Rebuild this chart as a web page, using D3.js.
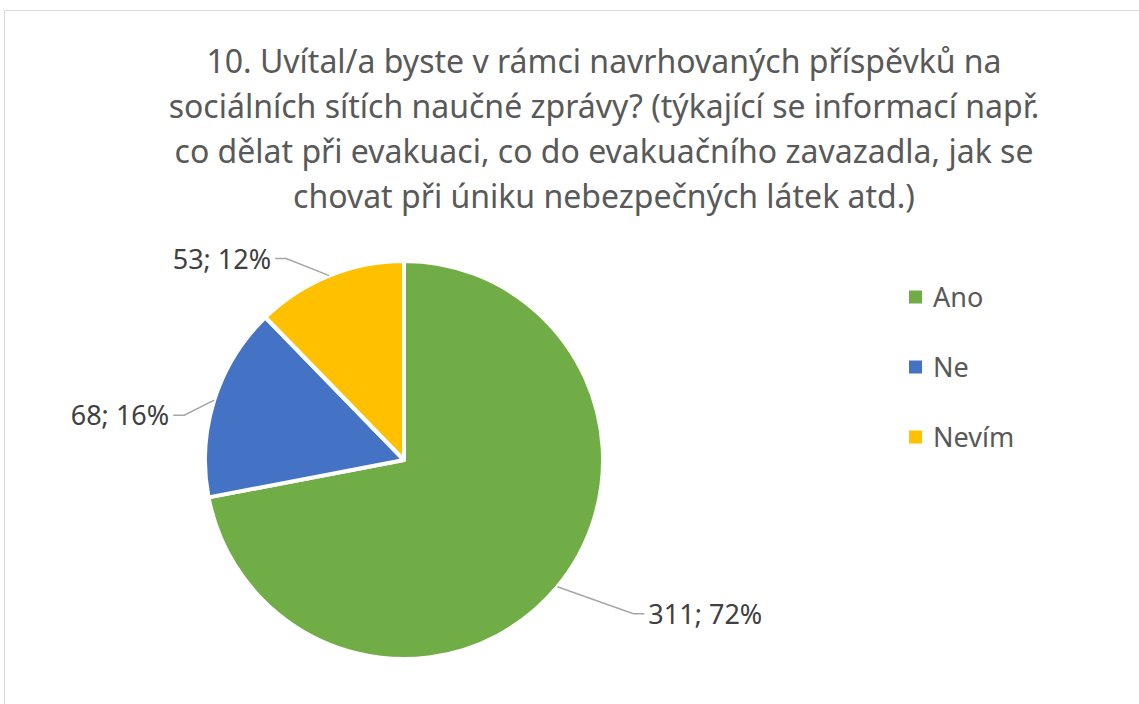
<!DOCTYPE html>
<html>
<head>
	<meta charset="utf-8">
	<title>Pie</title>
	<script src="https://cdn.jsdelivr.net/npm/d3@7"></script>
	<style>
		body { margin: 0; background: #fff; font-family: "Noto Sans", sans-serif; }
	</style>
</head>
<body>
	<div id="chart"></div>
	<script>

		// data
		const categories = ['Ano', 'Ne', 'Nevím'];
		const counts = [311, 68, 53];
		const percents = [72, 16, 12];
		const titleLines = [
			'10. Uvítal/a byste v rámci navrhovaných příspěvků na',
			'sociálních sítích naučné zprávy? (týkající se informací např.',
			'co dělat při evakuaci, co do evakuačního zavazadla, jak se',
			'chovat při úniku nebezpečných látek atd.)'
		];

		const width = 1139, height = 704;
		const cx = 404, cy = 460, radius = 199;
		const colors = ['#70ad47', '#4472c4', '#ffc000'];

		const svg = d3.select('#chart').append('svg')
				.attr('width', width)
				.attr('height', height);

		// chart frame
		svg.append('rect')
				.attr('x', 4.5).attr('y', 10.5)
				.attr('width', width + 20).attr('height', height + 20)
				.attr('fill', '#fff')
				.attr('stroke', '#d9d9d9');

		// title
		svg.append('text')
				.attr('text-anchor', 'middle')
				.attr('fill', '#595959')
				.style('font-size', '32px')
			.selectAll('tspan')
			.data(titleLines)
			.join('tspan')
				.attr('x', 604)
				.attr('y', (d, i) => 73 + i * 45)
				.text(d => d);

		const pie = d3.pie().sort(null).value(d => d);
		const arcs = pie(counts);
		const arc = d3.arc().innerRadius(0).outerRadius(radius);

		const g = svg.append('g').attr('transform', `translate(${cx},${cy})`);

		g.selectAll('path')
			.data(arcs)
			.join('path')
				.attr('d', arc)
				.attr('fill', (d, i) => colors[i])
				.attr('stroke', '#fff')
				.attr('stroke-width', 4)
				.attr('stroke-linejoin', 'round');

		// leader lines: edge point -> elbow -> short horizontal
		const elbow = [
			{ dx: 76, dy: 27, side: 1 },
			{ dx: -30, dy: 15, side: -1 },
			{ dx: -43, dy: -17, side: -1 }
		];

		arcs.forEach((d, i) => {
			const a = (d.startAngle + d.endAngle) / 2;
			const x0 = Math.sin(a) * radius, y0 = -Math.cos(a) * radius;
			const x1 = x0 + elbow[i].dx, y1 = y0 + elbow[i].dy;
			const x2 = x1 + elbow[i].side * 11;
			g.append('polyline')
					.attr('points', [[x0, y0], [x1, y1], [x2, y1]].map(p => p.join(',')).join(' '))
					.attr('fill', 'none')
					.attr('stroke', '#a6a6a6')
					.attr('stroke-width', 1.5);
			g.append('text')
					.attr('x', x2 + elbow[i].side * 4)
					.attr('y', y1 + 10)
					.attr('text-anchor', elbow[i].side > 0 ? 'start' : 'end')
					.attr('fill', '#404040')
					.style('font-size', '27px')
					.text(`${counts[i]}; ${percents[i]}%`);
		});

		// legend
		const legend = svg.append('g')
			.selectAll('g')
			.data(categories)
			.join('g')
				.attr('transform', (d, i) => `translate(909,${297 + i * 70})`);

		legend.append('rect')
				.attr('x', 0).attr('y', -6.5)
				.attr('width', 13).attr('height', 13)
				.attr('fill', (d, i) => colors[i]);

		legend.append('text')
				.attr('x', 24).attr('y', 10)
				.attr('fill', '#595959')
				.style('font-size', '27px')
				.text(d => d);

	</script>
</body>
</html>
